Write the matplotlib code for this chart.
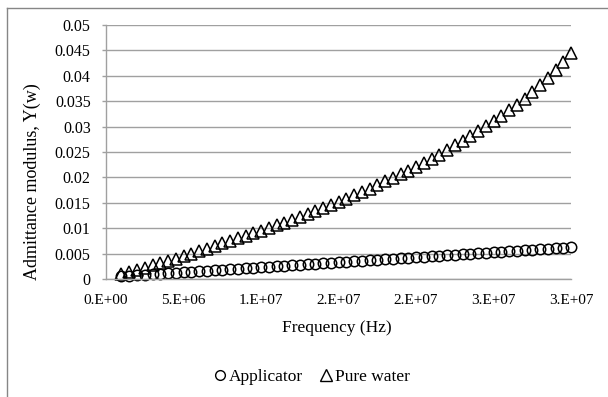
import matplotlib.pyplot as plt
from matplotlib.lines import Line2D

plt.rcParams['font.family'] = ['Liberation Serif', 'DejaVu Serif']

# Frequency in MHz
freq_mhz = [1.0, 1.5, 2.0, 2.5, 3.0, 3.5, 4.0, 4.5, 5.0, 5.5,
            6.0, 6.5, 7.0, 7.5, 8.0, 8.5, 9.0, 9.5, 10.0, 10.5,
            11.0, 11.5, 12.0, 12.5, 13.0, 13.5, 14.0, 14.5, 15.0, 15.5,
            16.0, 16.5, 17.0, 17.5, 18.0, 18.5, 19.0, 19.5, 20.0, 20.5,
            21.0, 21.5, 22.0, 22.5, 23.0, 23.5, 24.0, 24.5, 25.0, 25.5,
            26.0, 26.5, 27.0, 27.5, 28.0, 28.5, 29.0, 29.5, 30.0]

applicator = [0.0005, 0.0006, 0.0007, 0.0008, 0.0009, 0.0010, 0.0011, 0.0012, 0.0013, 0.0014,
              0.0015, 0.0016, 0.0017, 0.0018, 0.0019, 0.0020, 0.0021, 0.0022, 0.0023, 0.0024,
              0.0025, 0.0026, 0.0027, 0.0028, 0.0029, 0.0030, 0.0031, 0.0032, 0.0033, 0.0034,
              0.0035, 0.0036, 0.0037, 0.0038, 0.0039, 0.0040, 0.0041, 0.0042, 0.0043, 0.0044,
              0.0045, 0.0046, 0.0047, 0.0048, 0.0049, 0.0050, 0.0051, 0.0052, 0.0053, 0.0054,
              0.0055, 0.0056, 0.0057, 0.0058, 0.0059, 0.0060, 0.0061, 0.0062, 0.0063]

pure_water = [0.0009, 0.0013, 0.0018, 0.0022, 0.0027, 0.0031, 0.0036, 0.0040, 0.0045, 0.0050,
              0.0055, 0.0060, 0.0065, 0.0070, 0.0075, 0.0080, 0.0085, 0.0090, 0.0095, 0.0100,
              0.0106, 0.0111, 0.0117, 0.0122, 0.0128, 0.0134, 0.0140, 0.0146, 0.0152, 0.0158,
              0.0165, 0.0171, 0.0178, 0.0185, 0.0192, 0.0199, 0.0206, 0.0213, 0.0221, 0.0229,
              0.0237, 0.0245, 0.0254, 0.0263, 0.0272, 0.0281, 0.0291, 0.0301, 0.0311, 0.0321,
              0.0332, 0.0343, 0.0355, 0.0368, 0.0381, 0.0396, 0.0411, 0.0428, 0.0445]

x_ticks = [0, 5e6, 1e7, 1.5e7, 2e7, 2.5e7, 3e7]
x_ticklabels = ['0.E+00', '5.E+06', '1.E+07', '2.E+07', '2.E+07', '3.E+07', '3.E+07']
y_ticks = [0, 0.005, 0.01, 0.015, 0.02, 0.025, 0.03, 0.035, 0.04, 0.045, 0.05]
y_ticklabels = ['0', '0.005', '0.01', '0.015', '0.02', '0.025', '0.03', '0.035', '0.04', '0.045', '0.05']

freq_hz = [f * 1e6 for f in freq_mhz]

W, H = 608, 397
fig = plt.figure(figsize=(W / 100, H / 100), dpi=100)
ax = fig.add_axes([106 / W, 1 - 279 / H, (571 - 106) / W, (279 - 25) / H])

grey = '#a0a0a0'
ax.plot(freq_hz, applicator, linestyle='none', marker='o', markersize=7.5,
        fillstyle='none', markeredgecolor='black', markeredgewidth=1.1, clip_on=False)
ax.plot(freq_hz, pure_water, linestyle='none', marker='^', markersize=9,
        fillstyle='none', markeredgecolor='black', markeredgewidth=1.1, clip_on=False)

ax.set_xlim(0, 3e7)
ax.set_ylim(0, 0.05)
ax.set_xticks(x_ticks)
ax.set_xticklabels(x_ticklabels)
ax.set_yticks(y_ticks)
ax.set_yticklabels(y_ticklabels)
ax.yaxis.grid(True, color=grey, linewidth=1)
ax.set_axisbelow(True)

for side in ['top', 'right']:
    ax.spines[side].set_visible(False)
for side in ['left', 'bottom']:
    ax.spines[side].set_color(grey)
    ax.spines[side].set_linewidth(1)

ax.tick_params(axis='y', direction='out', length=3, width=1, color=grey,
               labelsize=11.5, pad=8)
ax.tick_params(axis='x', direction='out', length=0, labelsize=11, pad=11)

fig.text(337 / W, 1 - 328 / H, 'Frequency (Hz)', ha='center', va='center', fontsize=12.5)
fig.text(32 / W, 1 - 182 / H, 'Admittance modulus, Y(w)', rotation=90,
         ha='center', va='center', fontsize=13)

handles = [Line2D([], [], linestyle='none', marker='o', markersize=7, fillstyle='none',
                  markeredgecolor='black', markeredgewidth=1.0),
           Line2D([], [], linestyle='none', marker='^', markersize=8, fillstyle='none',
                  markeredgecolor='black', markeredgewidth=1.0)]
fig.legend(handles, ['Applicator', 'Pure water'], loc='center',
           bbox_to_anchor=(312 / W, 1 - 377 / H), ncol=2, frameon=False,
           fontsize=12.5, handlelength=0.7, handletextpad=0.15, columnspacing=1.0)

# outer chart border (left and top edges only)
fig.add_artist(Line2D([7 / W, 7 / W], [0, 1 - 8 / H], transform=fig.transFigure,
                      color='#868686', linewidth=1))
fig.add_artist(Line2D([7 / W, 1], [1 - 8 / H, 1 - 8 / H], transform=fig.transFigure,
                      color='#868686', linewidth=1))

fig.savefig('out.png', dpi=100)
